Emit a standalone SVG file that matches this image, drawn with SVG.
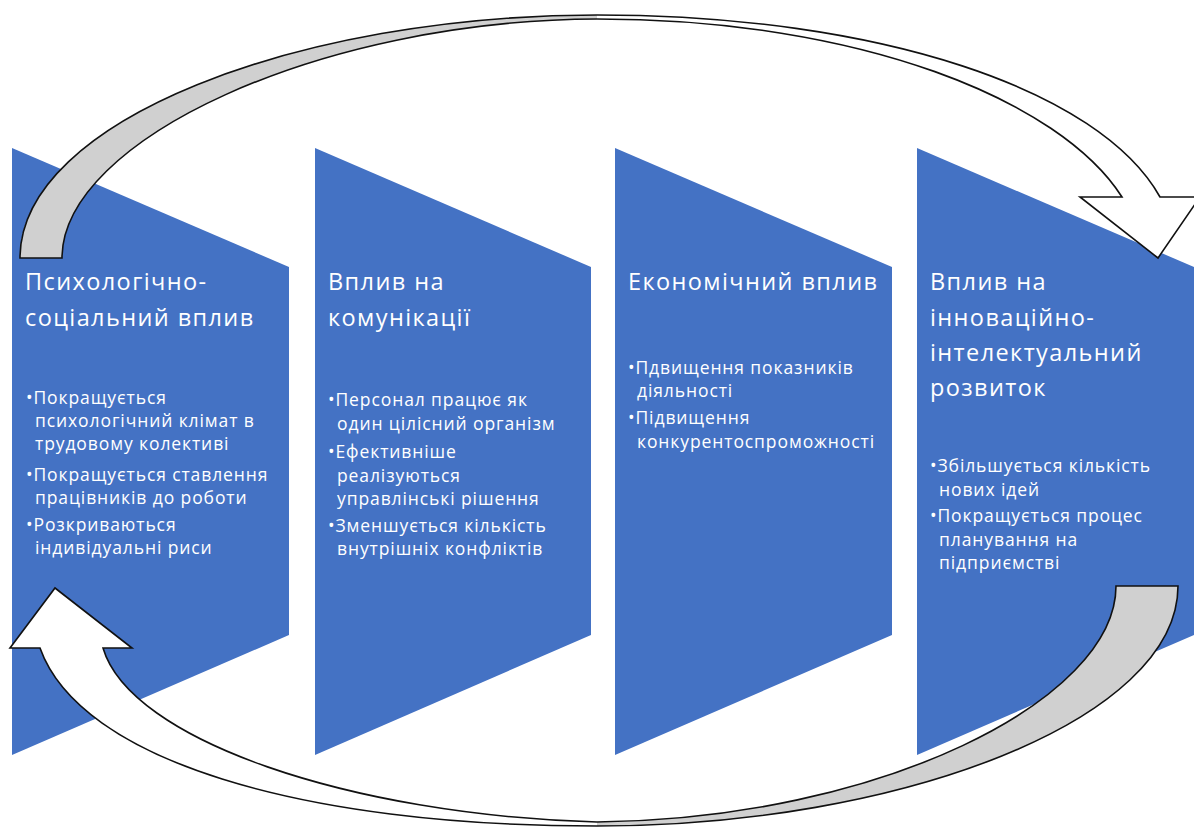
<svg xmlns="http://www.w3.org/2000/svg" width="1194" height="828" viewBox="0 0 1194 828">
<style>
.sh{fill:#4472C4}
.t{fill:#FFFFFF;font-family:"Open Sans","Noto Sans","DejaVu Sans",sans-serif;font-size:23.5px;letter-spacing:1.4px}
.b{fill:#FFFFFF;font-family:"Open Sans","Noto Sans","DejaVu Sans",sans-serif;font-size:17.5px;letter-spacing:0.9px}
.wf{fill:#FFFFFF;stroke:none}
.gf{fill:#D0D0D0;stroke:none}
.ol{fill:none;stroke:#111111;stroke-width:1.6;stroke-linejoin:miter}
</style>
<rect width="1194" height="828" fill="#FFFFFF"/>
<g id="node1">
<polygon class="sh" points="12,148 289,267 289,635 12,755"/>
<text class="t"><tspan x="25" y="290">Психологічно-</tspan><tspan x="25" y="326">соціальний вплив</tspan></text>
<text class="b"><tspan x="26" y="404">•Покращується</tspan><tspan x="35" y="427">психологічний клімат в</tspan><tspan x="35" y="450">трудовому колективі</tspan><tspan x="26" y="481">•Покращується ставлення</tspan><tspan x="35" y="504">працівників до роботи</tspan><tspan x="26" y="531">•Розкриваються</tspan><tspan x="35" y="554">індивідуальні риси</tspan></text>
</g>
<g id="node2">
<polygon class="sh" points="315,148 591,267 591,635 315,755"/>
<text class="t"><tspan x="328" y="290">Вплив на</tspan><tspan x="328" y="326">комунікації</tspan></text>
<text class="b"><tspan x="328" y="406">•Персонал працює як</tspan><tspan x="337" y="430">один цілісний організм</tspan><tspan x="328" y="458">•Ефективніше</tspan><tspan x="337" y="482">реалізуються</tspan><tspan x="337" y="505">управлінські рішення</tspan><tspan x="328" y="532">•Зменшується кількість</tspan><tspan x="337" y="555">внутрішніх конфліктів</tspan></text>
</g>
<g id="node3">
<polygon class="sh" points="615,148 892,267 892,635 615,755"/>
<text class="t"><tspan x="628" y="290">Економічний вплив</tspan></text>
<text class="b"><tspan x="628" y="374">•Пдвищення показників</tspan><tspan x="637" y="397">діяльності</tspan><tspan x="628" y="424">•Підвищення</tspan><tspan x="637" y="448">конкурентоспроможності</tspan></text>
</g>
<g id="node4">
<polygon class="sh" points="917,148 1194,267 1194,635 917,755"/>
<text class="t"><tspan x="930" y="290">Вплив на</tspan><tspan x="930" y="326">інноваційно-</tspan><tspan x="930" y="361">інтелектуальний</tspan><tspan x="930" y="396">розвиток</tspan></text>
<text class="b"><tspan x="930" y="472">•Збільшується кількість</tspan><tspan x="939" y="496">нових ідей</tspan><tspan x="930" y="522">•Покращується процес</tspan><tspan x="939" y="546">планування на</tspan><tspan x="939" y="569">підприємстві</tspan></text>
</g>
<g id="connectors">
<g id="arrow-top">
<path class="wf" d="M20,258 C20,120 300,15 597,15 C880,15 1100,90 1160,197 L1200,197 L1158,258 L1080,197 L1122,197 C1060,100 860,19 597,19 C320,20 62,140 62,258 Z"/>
<path class="gf" d="M20,258 C20,120 300,15 597,15 L597,19 C320,20 62,140 62,258 Z"/>
<path class="ol" d="M20,258 C20,120 300,15 597,15 C880,15 1100,90 1160,197 L1200,197 L1158,258 L1080,197 L1122,197 C1060,100 860,19 597,19 C320,20 62,140 62,258 Z"/>
</g>
<g id="arrow-bottom">
<path class="wf" d="M1116,586 L1178,586 C1178,720 900,826 597,826 C300,826 80,760 40,648 L10,648 L55,588 L132,648 L103,648 C130,740 350,815 597,822 C880,819 1116,700 1116,586 Z"/>
<path class="gf" d="M1116,586 L1178,586 C1178,720 900,826 597,826 L597,822 C880,819 1116,700 1116,586 Z"/>
<path class="ol" d="M1116,586 L1178,586 C1178,720 900,826 597,826 C300,826 80,760 40,648 L10,648 L55,588 L132,648 L103,648 C130,740 350,815 597,822 C880,819 1116,700 1116,586 Z"/>
</g>
</g>
</svg>
